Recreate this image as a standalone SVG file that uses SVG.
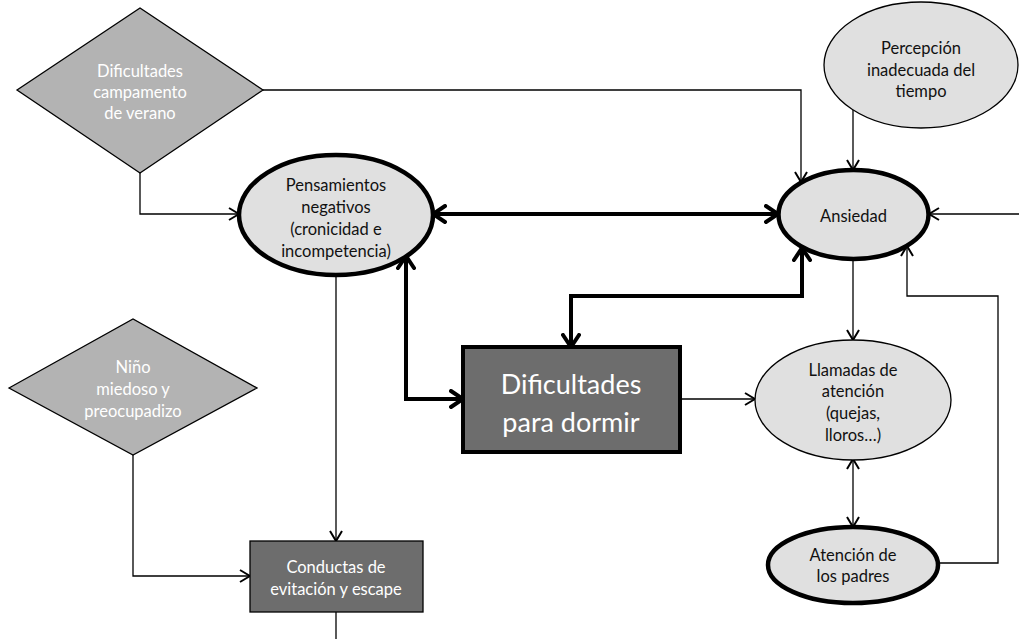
<svg xmlns="http://www.w3.org/2000/svg" width="1019" height="639" viewBox="0 0 1019 639">
<style>
text{font-family:Lato,"Open Sans","Liberation Sans",sans-serif;text-anchor:middle}
.t{font-size:16.5px;fill:#111}
.w{font-size:16.5px;fill:#fff}
.big{font-size:27px;fill:#fff}
.dia{fill:#b3b3b3;stroke:#000;stroke-width:1.3}
.ell{fill:#e0e0e0;stroke:#000;stroke-width:1.3}
.ellb{fill:#e0e0e0;stroke:#000;stroke-width:4.5}
.box{fill:#6d6d6d;stroke:#000;stroke-width:1.3}
.boxb{fill:#6d6d6d;stroke:#000;stroke-width:4}
.c{fill:none;stroke:#000;stroke-width:1.3}
.cb{fill:none;stroke:#000;stroke-width:4}
</style>
<defs>
<marker id="a" viewBox="0 0 12 14" refX="11" refY="7" markerWidth="12" markerHeight="14" markerUnits="userSpaceOnUse" orient="auto-start-reverse">
<path d="M1,1 L11,7 L1,13" fill="none" stroke="#000" stroke-width="2"/>
</marker>
<marker id="b" viewBox="0 0 16 20" refX="14" refY="10" markerWidth="16" markerHeight="20" markerUnits="userSpaceOnUse" orient="auto-start-reverse">
<path d="M2,2 L14,10 L2,18" fill="none" stroke="#000" stroke-width="4" stroke-linecap="round"/>
</marker>
</defs>
<g id="connectors">
<path class="c" d="M263,90 H801 V182" marker-end="url(#a)"/>
<path class="c" d="M140,173 V214 H239" marker-end="url(#a)"/>
<path class="c" d="M853,110 V170" marker-end="url(#a)"/>
<path class="c" d="M1019,214 H929" marker-end="url(#a)"/>
<path class="cb" d="M433,214 H778" marker-start="url(#b)" marker-end="url(#b)"/>
<path class="cb" d="M802,248 V296 H571 V347" marker-start="url(#b)" marker-end="url(#b)"/>
<path class="cb" d="M406,256 V399 H463" marker-start="url(#b)" marker-end="url(#b)"/>
<path class="c" d="M336,275 V541" marker-end="url(#a)"/>
<path class="c" d="M336,612 V639"/>
<path class="c" d="M133,455 V576 H250" marker-end="url(#a)"/>
<path class="c" d="M680,399 H755" marker-end="url(#a)"/>
<path class="c" d="M853,259 V340" marker-end="url(#a)"/>
<path class="c" d="M853,459 V527" marker-start="url(#a)" marker-end="url(#a)"/>
<path class="c" d="M938,563 H998 V296 H907 V246" marker-end="url(#a)"/>
</g>
<g id="n-campamento">
<polygon class="dia" points="17,90 140,8 263,90 140,173"/>
<text class="w" x="140" y="77">Dificultades</text>
<text class="w" x="140" y="98">campamento</text>
<text class="w" x="140" y="119">de verano</text>
</g>
<g id="n-percepcion">
<ellipse class="ell" cx="921" cy="65" rx="97" ry="63"/>
<text class="t" x="921" y="54">Percepción</text>
<text class="t" x="921" y="76">inadecuada del</text>
<text class="t" x="921" y="97">tiempo</text>
</g>
<g id="n-pensamientos">
<ellipse class="ellb" cx="336" cy="215" rx="97" ry="60"/>
<text class="t" x="336" y="191">Pensamientos</text>
<text class="t" x="336" y="213">negativos</text>
<text class="t" x="336" y="235">(cronicidad e</text>
<text class="t" x="336" y="257">incompetencia)</text>
</g>
<g id="n-ansiedad">
<ellipse class="ellb" cx="853.5" cy="214.5" rx="75" ry="44.5"/>
<text class="t" x="853.5" y="222">Ansiedad</text>
</g>
<g id="n-nino">
<polygon class="dia" points="9,388 133,319 257,388 133,455"/>
<text class="w" x="133" y="373">Niño</text>
<text class="w" x="133" y="395">miedoso y</text>
<text class="w" x="133" y="417">preocupadizo</text>
</g>
<g id="n-dormir">
<rect class="boxb" x="463" y="347" width="217" height="105"/>
<text class="big" x="571" y="394">Dificultades</text>
<text class="big" x="571" y="432">para dormir</text>
</g>
<g id="n-llamadas">
<ellipse class="ell" cx="853" cy="400" rx="98" ry="60"/>
<text class="t" x="853" y="376">Llamadas de</text>
<text class="t" x="853" y="397">atención</text>
<text class="t" x="853" y="419">(quejas,</text>
<text class="t" x="853" y="441">lloros…)</text>
</g>
<g id="n-atencion">
<ellipse class="ellb" cx="853" cy="565" rx="85" ry="38"/>
<text class="t" x="853" y="561">Atención de</text>
<text class="t" x="853" y="582">los padres</text>
</g>
<g id="n-conductas">
<rect class="box" x="250" y="541" width="173" height="71"/>
<text class="w" x="336" y="573">Conductas de</text>
<text class="w" x="336" y="595">evitación y escape</text>
</g>
</svg>
